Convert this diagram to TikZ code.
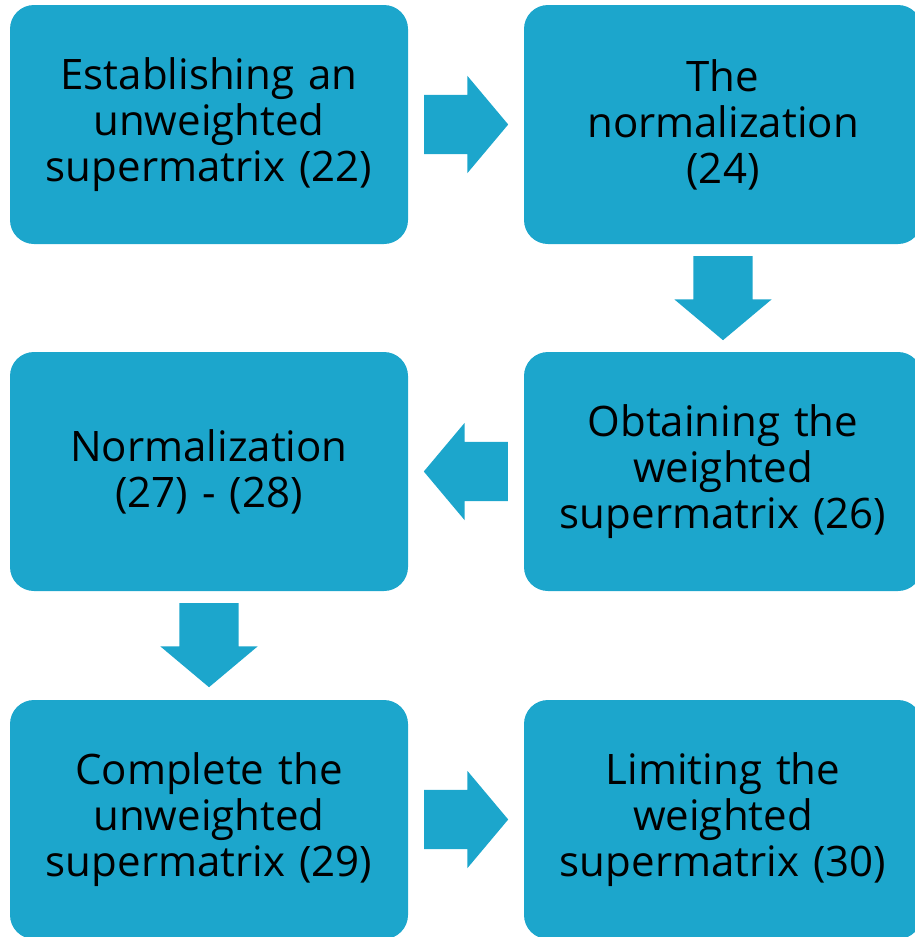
\documentclass[tikz,border=0pt]{standalone}
\usepackage{fontspec}
\setmainfont{Open Sans}
\usepackage{xcolor, tikz}
\usetikzlibrary{positioning}
\usetikzlibrary{calc, shapes.arrows}
\definecolor{stepblue}{RGB}{28,166,204}

\begin{document}
\begin{tikzpicture}[x=1pt, y=-1pt,
		box style/.style={rectangle, fill=stepblue, rounded corners=24pt,
			minimum width=398pt, minimum height=239pt, inner sep=0pt,
			text width=380pt, align=center, font=\fontsize{42}{46}\selectfont},
		block arrow/.style={single arrow, fill=stepblue, minimum height=84pt,
			inner xsep=0pt, inner ysep=29.5pt, single arrow head extend=19pt,
			single arrow tip angle=100, outer sep=0pt, anchor=tail}
		]
		\useasboundingbox (0, 0) rectangle (915, 937);
		\clip (0, 0) rectangle (915, 937);
		\node[box style] (est) at (209, 124.5) {Establishing an\\unweighted\\supermatrix (22)};
		\node[box style] (norm) at (723, 124.5) {The\\normalization\\(24)};
		\node[box style] (wgt) at (723, 471.5) {Obtaining the\\weighted\\supermatrix (26)};
		\node[box style] (renorm) at (209, 471.5) {Normalization\\(27) - (28)\\[46pt]};
		\node[box style] (compl) at (209, 819.5) {Complete the\\unweighted\\supermatrix (29)};
		\node[box style] (lim) at (723, 819.5) {Limiting the\\weighted\\supermatrix (30)};
		
		\node[block arrow] (a1) at ($(est.east)+(16, 0)$) {};
		\node[block arrow, rotate=-90] (a2) at ($(norm.south)+(0, 12)$) {};
		\node[block arrow, rotate=180] (a3) at ($(wgt.west)+(-16, 0)$) {};
		\node[block arrow, rotate=-90] (a4) at ($(renorm.south)+(0, 12)$) {};
		\node[block arrow] (a5) at ($(compl.east)+(16, 0)$) {};
	\end{tikzpicture}
\end{document}
